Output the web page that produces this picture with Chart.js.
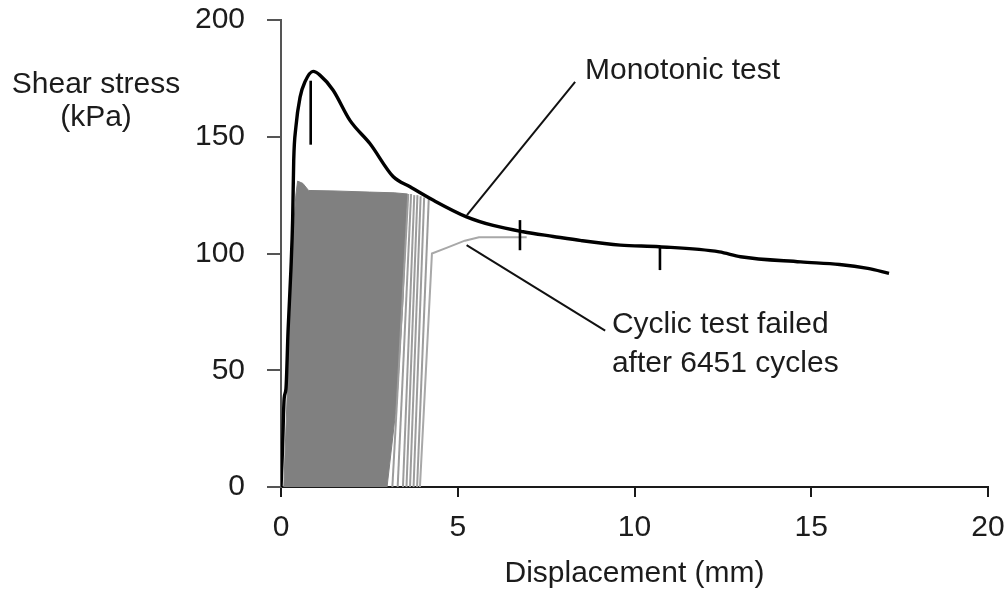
<!DOCTYPE html>
<html lang="en">
<head>
    <meta charset="UTF-8">
    <title>Shear stress vs displacement</title>
    <script src="https://cdn.jsdelivr.net/npm/chart.js"></script>
</head>
<style>
    html, body {
        margin: 0;
        padding: 0;
        background: #fff;
    }
    .chart-container {
        width: 1005px;
        height: 589px;
    }
</style>
<body>
    <div class="chart-container">
        <canvas id="stressChart"></canvas>
    </div>

    <script>
        // Monotonic test: displacement (mm) / shear stress (kPa)
        var monoX = [0, 0.04, 0.09, 0.14, 0.2, 0.28, 0.33, 0.36, 0.42, 0.54, 0.68, 0.91, 1.1, 1.47, 1.95, 2.52, 3.17, 3.65, 4.3, 5.25, 6.0, 6.85, 7.7, 8.5, 9.6, 10.7, 12.4, 13.0, 14.7, 15.8, 16.6, 17.2];
        var monoY = [0, 15, 38, 42, 67, 93, 115, 140, 154, 167, 173.6, 178, 176.4, 170, 157, 147, 133, 128.6, 122.9, 115.7, 112, 109.3, 107.3, 105.5, 103.6, 102.9, 100.7, 98.6, 96.4, 95.3, 93.6, 91.5];

        // small vertical marks on the monotonic curve: x, bottom, top
        var markX = [0.84, 6.76, 10.72];
        var markLow = [146.6, 101.4, 92.9];
        var markHigh = [174, 114.3, 102.9];

        // cyclic test: outline of the densely packed loading cycles
        var denseX = [0.08, 0.2, 0.33, 0.42, 0.47, 0.62, 0.78, 1.5, 2.5, 3.2, 3.58, 3.45, 3.28, 3.0];
        var denseY = [0, 50, 105, 125, 131, 130, 127, 126.8, 126.3, 126, 125.5, 80, 37, 0];

        // last separate cycles before failure
        var cycleBaseX = [3.15, 3.3, 3.45, 3.55, 3.65, 3.75, 3.85];
        var cycleTopX = [3.6, 3.68, 3.77, 3.86, 3.95, 4.05, 4.18];
        var cyclePeak = [125.5, 125.5, 125, 125, 124.5, 124, 123.5];

        // failure branch of the cyclic test
        var failX = [3.93, 4.27, 4.7, 5.2, 5.6, 6.95];
        var failY = [0, 100, 102.5, 105.5, 107, 107];

        // axis ticks
        var xTicks = [0, 5, 10, 15, 20];
        var yTicks = [0, 50, 100, 150, 200];

        // leader lines for the labels
        var monoLeaderX = [5.26, 8.32];
        var monoLeaderY = [116.4, 173.5];
        var cycLeaderX = [5.25, 9.17];
        var cycLeaderY = [103.6, 67];

        var FONT = "'Liberation Sans', Arial, sans-serif";
        var TEXT = '#1c1c1c';

        function pts(xs, ys) {
            return xs.map(function (x, i) { return { x: x, y: ys[i] }; });
        }

        function lineSet(data, color, width, extra) {
            var ds = {
                data: data,
                showLine: true,
                borderColor: color,
                borderWidth: width,
                pointRadius: 0,
                fill: false,
                tension: 0
            };
            for (var k in extra) ds[k] = extra[k];
            return ds;
        }

        var datasets = [];

        // monotonic curve
        datasets.push(lineSet(pts(monoX, monoY), '#000', 3.4, { cubicInterpolationMode: 'monotone', order: 0 }));

        // vertical marks
        markX.forEach(function (x, i) {
            datasets.push(lineSet([{ x: x, y: markLow[i] }, { x: x, y: markHigh[i] }], '#000', 2.6, { order: 1 }));
        });

        // leader lines
        datasets.push(lineSet(pts(monoLeaderX, monoLeaderY), '#111', 2, { order: 2 }));
        datasets.push(lineSet(pts(cycLeaderX, cycLeaderY), '#111', 2, { order: 2 }));

        // failure branch
        datasets.push(lineSet(pts(failX, failY), '#a8a8a8', 2, { order: 3 }));

        // separate cycles
        cycleBaseX.forEach(function (x, i) {
            datasets.push(lineSet([{ x: x, y: 0 }, { x: cycleTopX[i], y: cyclePeak[i] }], '#9c9c9c', 2, { order: 4 }));
        });

        // dense cycles, filled
        datasets.push(lineSet(pts(denseX, denseY), '#808080', 1, {
            fill: 'shape',
            backgroundColor: '#808080',
            order: 5
        }));

        // free text drawn in data coordinates
        var notes = [
            { text: 'Monotonic test', x: 8.6, y: 178.2 },
            { text: 'Cyclic test failed', x: 9.36, y: 69.3 },
            { text: 'after 6451 cycles', x: 9.36, y: 53 }
        ];

        var notesPlugin = {
            id: 'notes',
            afterDraw: function (chart) {
                var ctx = chart.ctx;
                var xs = chart.scales.x, ys = chart.scales.y;
                ctx.save();
                ctx.fillStyle = TEXT;
                ctx.font = '30px ' + FONT;
                ctx.textBaseline = 'middle';
                ctx.textAlign = 'left';
                notes.forEach(function (n) {
                    ctx.fillText(n.text, xs.getPixelForValue(n.x), ys.getPixelForValue(n.y));
                });
                // y axis title, horizontal at the top left
                ctx.textAlign = 'center';
                var cx = chart.chartArea.left - 185;
                var top = chart.chartArea.top;
                ctx.fillText('Shear stress', cx, top + 65);
                ctx.fillText('(kPa)', cx, top + 98);
                ctx.restore();
            }
        };

        var ctx = document.getElementById('stressChart').getContext('2d');
        new Chart(ctx, {
            type: 'scatter',
            data: { datasets: datasets },
            options: {
                responsive: true,
                maintainAspectRatio: false,
                animation: false,
                layout: { padding: { left: 0, right: 17, top: 20, bottom: 0 } },
                plugins: {
                    legend: { display: false },
                    tooltip: { enabled: false }
                },
                scales: {
                    x: {
                        type: 'linear',
                        min: 0,
                        max: 20,
                        afterBuildTicks: function (axis) {
                            axis.ticks = xTicks.map(function (v) { return { value: v }; });
                        },
                        afterFit: function (axis) {
                            axis.height = 102;
                            axis.paddingLeft = 0;
                            axis.paddingRight = 0;
                        },
                        border: { display: true, color: '#1a1a1a', width: 2 },
                        grid: { drawOnChartArea: false, drawTicks: true, tickLength: 10, color: '#1a1a1a', lineWidth: 2 },
                        ticks: { color: TEXT, font: { family: FONT, size: 30 }, padding: 13 },
                        title: {
                            display: true,
                            text: 'Displacement (mm)',
                            color: TEXT,
                            font: { family: FONT, size: 30, lineHeight: 1 },
                            padding: { top: 0, bottom: 0 }
                        }
                    },
                    y: {
                        type: 'linear',
                        min: 0,
                        max: 200,
                        afterBuildTicks: function (axis) {
                            axis.ticks = yTicks.map(function (v) { return { value: v }; });
                        },
                        afterFit: function (axis) {
                            axis.width = 281;
                            axis.paddingTop = 0;
                            axis.paddingBottom = 0;
                        },
                        border: { display: true, color: '#555', width: 2 },
                        grid: { drawOnChartArea: false, drawTicks: true, tickLength: 14, color: '#555', lineWidth: 2 },
                        ticks: { color: TEXT, font: { family: FONT, size: 30 }, padding: 22 }
                    }
                }
            },
            plugins: [notesPlugin]
        });
    </script>
</body>
</html>
